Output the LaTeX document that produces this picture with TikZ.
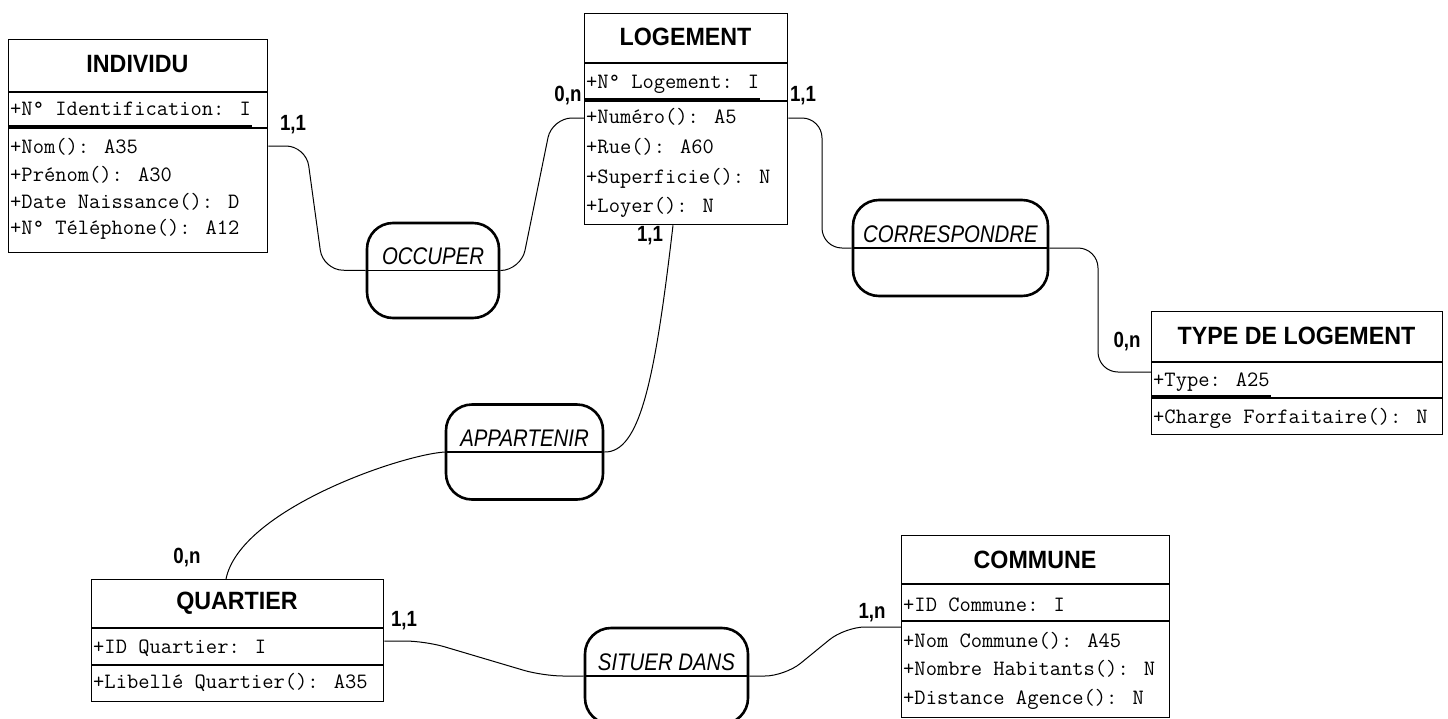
\documentclass[tikz,border=0pt]{standalone}
\usepackage{fontspec}
\setmainfont{Liberation Sans}
\newfontfamily\titlefont[FakeStretch=0.93]{Liberation Sans}
\newfontfamily\relfont[FakeStretch=0.85]{Liberation Sans}
\begin{document}
\begin{tikzpicture}[x=1pt,y=-1pt,
    ent/.style={draw,line width=1.3pt,inner sep=0pt,anchor=north west},
    sep/.style={line width=1.3pt},
    idline/.style={line width=2.2pt},
    title/.style={font=\titlefont\bfseries\fontsize{25}{30}\selectfont,inner sep=0pt},
    attr/.style={font=\ttfamily\fontsize{21.9}{25}\selectfont,anchor=base west,inner sep=1pt},
    rel/.style={draw,line width=2.6pt,rounded corners=26pt,inner sep=0pt},
    reltext/.style={font=\relfont\itshape\fontsize{24}{27}\selectfont,anchor=base,inner sep=0pt},
    card/.style={font=\relfont\bfseries\fontsize{22}{25}\selectfont,inner sep=0pt},
    link/.style={line width=1pt,rounded corners=20pt}]
    \fill [white] (0,0) rectangle (1448,718);
    \useasboundingbox (0,0) rectangle (1448,718);

    \node [ent,minimum width=259pt,minimum height=213pt] (ind) at (8,39) {};
    \draw [sep] (ind.west |- 0,92) -- (ind.east |- 0,92);
    \draw [sep] (ind.west |- 0,128) -- (ind.east |- 0,128);
    \node [title] (ind-t) at (137.5,64) {INDIVIDU};
    \node [attr] (ind-id) at (9,115) {+N° Identification: I};
    \draw [idline] (ind.west |- 0,126) -- (ind-id.east |- 0,126);
    \node [attr] (ind-a1) at (9,153) {+Nom(): A35};
    \node [attr] (ind-a2) at (9,181) {+Prénom(): A30};
    \node [attr] (ind-a3) at (9,208) {+Date Naissance(): D};
    \node [attr] (ind-a4) at (9,234) {+N° Téléphone(): A12};

    \node [ent,minimum width=203pt,minimum height=211pt] (log) at (584,13) {};
    \draw [sep] (log.west |- 0,63) -- (log.east |- 0,63);
    \draw [sep] (log.west |- 0,101) -- (log.east |- 0,101);
    \node [title] (log-t) at (685.5,37) {LOGEMENT};
    \node [attr] (log-id) at (585,88) {+N° Logement: I};
    \draw [idline] (log.west |- 0,99) -- (log-id.east |- 0,99);
    \node [attr] (log-a1) at (585,123) {+Numéro(): A5};
    \node [attr] (log-a2) at (585,153) {+Rue(): A60};
    \node [attr] (log-a3) at (585,183) {+Superficie(): N};
    \node [attr] (log-a4) at (585,212) {+Loyer(): N};

    \node [ent,minimum width=291pt,minimum height=123pt] (type) at (1151,311) {};
    \draw [sep] (type.west |- 0,362) -- (type.east |- 0,362);
    \draw [sep] (type.west |- 0,398) -- (type.east |- 0,398);
    \node [title] (type-t) at (1296.5,336) {TYPE DE LOGEMENT};
    \node [attr] (type-id) at (1152,386) {+Type: A25};
    \draw [idline] (type.west |- 0,396) -- (type-id.east |- 0,396);
    \node [attr] (type-a1) at (1152,423) {+Charge Forfaitaire(): N};

    \node [ent,minimum width=292pt,minimum height=122pt] (qua) at (91,579) {};
    \draw [sep] (qua.west |- 0,628) -- (qua.east |- 0,628);
    \draw [sep] (qua.west |- 0,665) -- (qua.east |- 0,665);
    \node [title] (qua-t) at (237,603) {QUARTIER};
    \node [attr] (qua-id) at (92,653) {+ID Quartier: I};
    \node [attr] (qua-a1) at (92,688) {+Libellé Quartier(): A35};

    \node [ent,minimum width=268pt,minimum height=182pt] (com) at (901,535) {};
    \draw [sep] (com.west |- 0,584) -- (com.east |- 0,584);
    \draw [sep] (com.west |- 0,621) -- (com.east |- 0,621);
    \node [title] (com-t) at (1035,560) {COMMUNE};
    \node [attr] (com-id) at (902,611) {+ID Commune: I};
    \node [attr] (com-a1) at (902,647) {+Nom Commune(): A45};
    \node [attr] (com-a2) at (902,675) {+Nombre Habitants(): N};
    \node [attr] (com-a3) at (902,704) {+Distance Agence(): N};

    \node [rel,minimum width=132pt,minimum height=95pt] (occ) at (433,270.5) {};
    \draw [sep] (occ.west) -- (occ.east);
    \node [reltext] (occ-t) at ([yshift=6pt]occ.center) {OCCUPER};
    \node [rel,minimum width=195pt,minimum height=96pt] (cor) at (950.5,248) {};
    \draw [sep] (cor.west) -- (cor.east);
    \node [reltext] (cor-t) at ([yshift=6pt]cor.center) {CORRESPONDRE};
    \node [rel,minimum width=157pt,minimum height=95pt] (app) at (524.5,452) {};
    \draw [sep] (app.west) -- (app.east);
    \node [reltext] (app-t) at ([yshift=6pt]app.center) {APPARTENIR};
    \node [rel,minimum width=163pt,minimum height=96pt] (sit) at (666.5,676) {};
    \draw [sep] (sit.west) -- (sit.east);
    \node [reltext] (sit-t) at ([yshift=6pt]sit.center) {SITUER DANS};

    \draw [link] (ind.east |- 0,146) -- (306,146) -- (323,270) -- (occ.west);
    \draw [link] (occ.east) -- (521,270) -- (552,118) -- (log.west |- 0,118);
    \draw [link] (log.east |- 0,118) -- (822,118) -- (822,248) -- (cor.west);
    \draw [link] (cor.east) -- (1098,248) -- (1098,372) -- (type.west |- 0,372);
    \draw [link] (log.south -| 673,0) .. controls (655,380) and (640,453) .. (app.east);
    \draw [link] (qua.north -| 226,0) .. controls (240,510) and (400,455) .. (app.west);
    \draw [link] (qua.east |- 0,641) -- (425,641) -- (543,676) -- (sit.west);
    \draw [link] (sit.east) -- (785,676) -- (845,627) -- (com.west |- 0,627);

    \node [card] (c-ind) at (293,125) {1,1};
    \node [card] (c-logl) at (568,96) {0,n};
    \node [card] (c-logr) at (803,96) {1,1};
    \node [card] (c-logb) at (650,236) {1,1};
    \node [card] (c-type) at (1127,342) {0,n};
    \node [card] (c-qual) at (187,558) {0,n};
    \node [card] (c-quar) at (404,621) {1,1};
    \node [card] (c-com) at (872,613) {1,n};
\end{tikzpicture}
\end{document}
